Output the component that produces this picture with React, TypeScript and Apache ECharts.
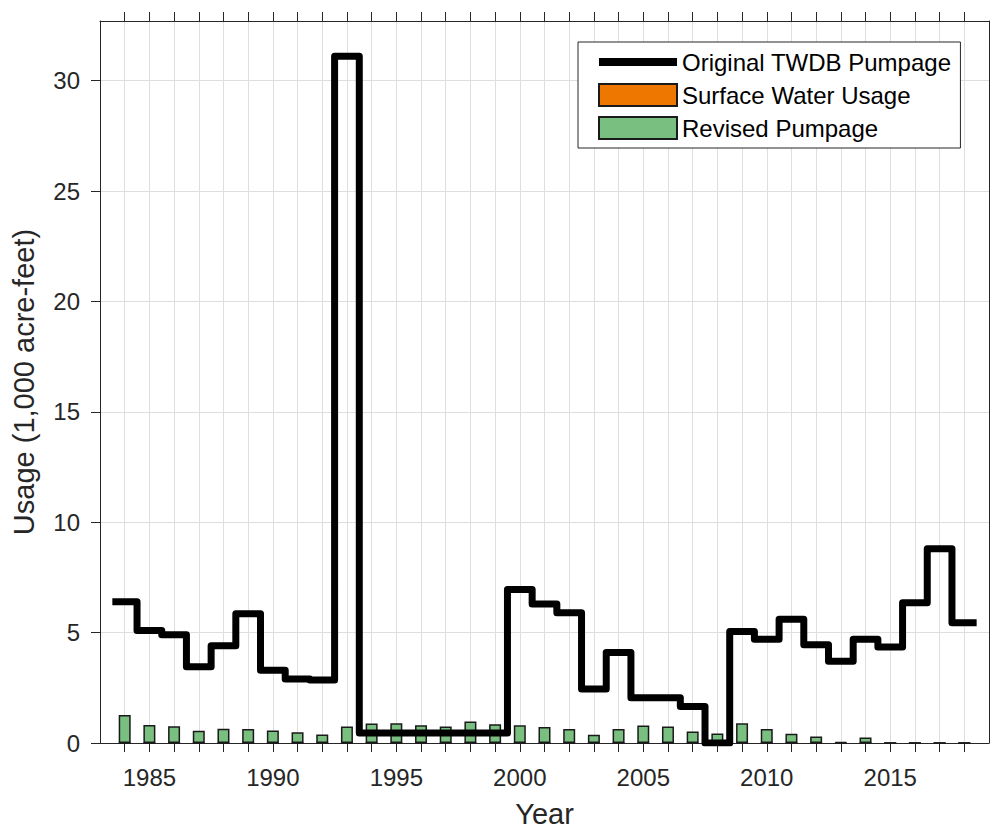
import React, { useEffect, useRef } from "react";
import * as echarts from "echarts";

const years = [
  1984, 1985, 1986, 1987, 1988, 1989, 1990, 1991, 1992, 1993,
  1994, 1995, 1996, 1997, 1998, 1999, 2000, 2001, 2002, 2003,
  2004, 2005, 2006, 2007, 2008, 2009, 2010, 2011, 2012, 2013,
  2014, 2015, 2016, 2017, 2018,
];
const originalTWDB = [
  6.4, 5.1, 4.9, 3.45, 4.4, 5.85, 3.3, 2.9, 2.85, 31.1,
  0.45, 0.45, 0.45, 0.45, 0.45, 0.45, 6.95, 6.3, 5.9, 2.45,
  4.1, 2.05, 2.05, 1.65, 0, 5.05, 4.7, 5.6, 4.45, 3.7,
  4.7, 4.35, 6.35, 8.8, 5.45,
];
const revisedPumpage = [
  1.27, 0.82, 0.76, 0.55, 0.64, 0.63, 0.57, 0.49, 0.39, 0.75,
  0.88, 0.89, 0.8, 0.75, 0.97, 0.85, 0.8, 0.72, 0.63, 0.37,
  0.63, 0.79, 0.75, 0.52, 0.43, 0.89, 0.63, 0.42, 0.29, 0.05,
  0.25, 0, 0, 0, 0,
];
const surfaceWater = [
  0, 0, 0, 0, 0, 0, 0, 0, 0, 0,
  0, 0, 0, 0, 0, 0, 0, 0, 0, 0,
  0, 0, 0, 0, 0, 0, 0, 0, 0, 0,
  0, 0, 0, 0, 0,
];
const xLabelYears = [1985, 1990, 1995, 2000, 2005, 2010, 2015];
const yTicks = [0, 5, 10, 15, 20, 25, 30];

const FONT = "Liberation Sans, Arial, Helvetica, sans-serif";
const AX = "#262626";

export default function App() {
  const ref = useRef<HTMLDivElement>(null);
  useEffect(() => {
    document.body.style.margin = "0";
    if (!ref.current) return;
    const chart = echarts.init(ref.current, null, { renderer: "svg" });

    const stepData: number[][] = years.map((y, i) => [y - 0.5, originalTWDB[i]]);
    stepData.push([years[years.length - 1] + 0.5, originalTWDB[originalTWDB.length - 1]]);

    chart.setOption({
      animation: false,
      backgroundColor: "#ffffff",
      textStyle: { fontFamily: FONT },
      grid: { left: 100, right: 1, top: 21, bottom: 81, containLabel: false },
      legend: {
        orient: "vertical",
        left: 578,
        top: 42,
        padding: [8, 9, 8, 17],
        itemWidth: 78,
        itemHeight: 22,
        itemGap: 9,
        borderColor: AX,
        borderWidth: 1,
        backgroundColor: "#ffffff",
        textStyle: { fontFamily: FONT, fontSize: 24, color: "#000" },
        data: [
          {
            name: "Original TWDB Pumpage",
            itemStyle: { opacity: 0 },
            lineStyle: { width: 8, color: "#000", opacity: 1 },
          },
          { name: "Surface Water Usage", icon: "rect" },
          { name: "Revised Pumpage", icon: "rect" },
        ],
      },
      xAxis: [
        {
          type: "value",
          min: 1983,
          max: 2019,
          position: "bottom",
          name: "Year",
          nameLocation: "middle",
          nameGap: 56,
          nameTextStyle: { fontFamily: FONT, fontSize: 29, color: AX },
          axisLine: { show: true, onZero: false, lineStyle: { color: AX, width: 1 } },
          axisTick: { show: true, inside: false, length: 9, customValues: years, lineStyle: { color: AX, width: 1 } },
          axisLabel: {
            show: true,
            customValues: xLabelYears,
            fontSize: 24,
            color: AX,
            margin: 22,
            fontFamily: FONT,
            formatter: (v: number) => String(v),
          },
          splitLine: { show: true, lineStyle: { color: "#dedede", width: 1 } },
        },
        {
          type: "value",
          min: 1983,
          max: 2019,
          position: "top",
          axisLine: { show: true, onZero: false, lineStyle: { color: AX, width: 1 } },
          axisTick: { show: true, inside: false, length: 9, customValues: years, lineStyle: { color: AX, width: 1 } },
          axisLabel: { show: false },
          splitLine: { show: false },
        },
      ],
      yAxis: [
        {
          type: "value",
          min: 0,
          max: 32.7,
          position: "left",
          name: "Usage (1,000 acre-feet)",
          nameLocation: "middle",
          nameGap: 62,
          nameTextStyle: { fontFamily: FONT, fontSize: 29, color: AX },
          axisLine: { show: true, onZero: false, lineStyle: { color: AX, width: 1 } },
          axisTick: { show: true, inside: false, length: 9, customValues: yTicks, lineStyle: { color: AX, width: 1 } },
          axisLabel: { show: true, customValues: yTicks, fontSize: 24, color: AX, margin: 20, fontFamily: FONT },
          splitLine: { show: true, lineStyle: { color: "#dedede", width: 1 } },
        },
        {
          type: "value",
          min: 0,
          max: 32.7,
          position: "right",
          axisLine: { show: true, onZero: false, lineStyle: { color: AX, width: 1 } },
          axisTick: { show: false },
          axisLabel: { show: false },
          splitLine: { show: false },
        },
      ],
      series: [
        {
          name: "Original TWDB Pumpage",
          type: "line",
          step: "end",
          xAxisIndex: 0,
          yAxisIndex: 0,
          data: stepData,
          symbol: "none",
          z: 5,
          lineStyle: { color: "#000000", width: 7, join: "round", cap: "butt" },
          itemStyle: { color: "#000000" },
        },
        {
          name: "Revised Pumpage",
          type: "bar",
          stack: "usage",
          xAxisIndex: 0,
          yAxisIndex: 0,
          barWidth: 12,
          z: 2,
          data: years.map((y, i) => [y, revisedPumpage[i]]),
          itemStyle: { color: "#78bf80", borderColor: "#1a1a1a", borderWidth: 1.5 },
        },
        {
          name: "Surface Water Usage",
          type: "bar",
          stack: "usage",
          xAxisIndex: 0,
          yAxisIndex: 0,
          barWidth: 12,
          z: 2,
          data: years.map((y, i) => [y, surfaceWater[i]]),
          itemStyle: { color: "#ee7700", borderColor: "#1a1a1a", borderWidth: 1.5 },
        },
      ],
    });
    return () => chart.dispose();
  }, []);
  return <div ref={ref} style={{ width: 990, height: 833 }} />;
}
